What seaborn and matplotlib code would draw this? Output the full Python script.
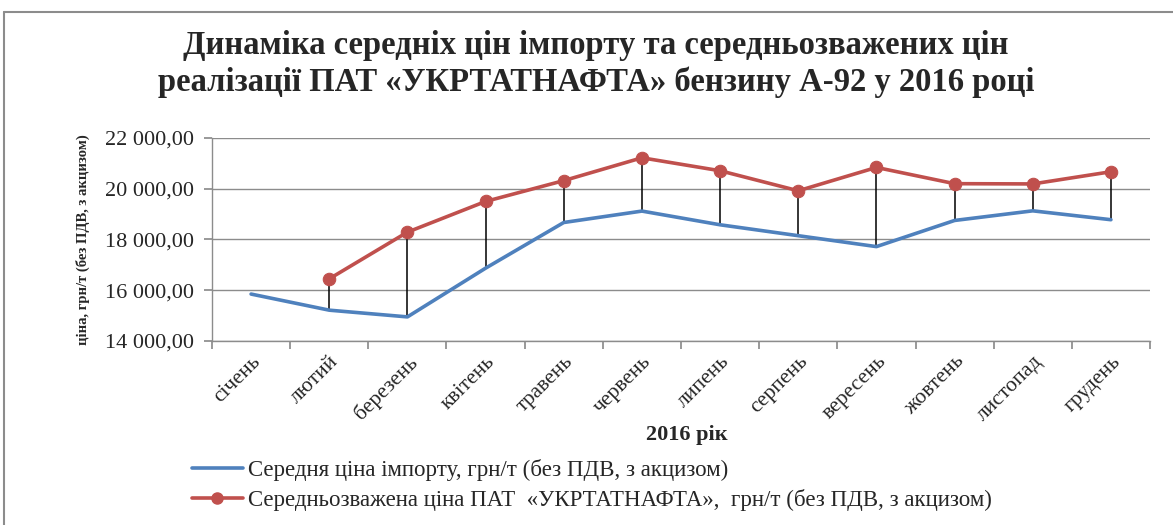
import matplotlib
matplotlib.use("Agg")
import matplotlib.pyplot as plt
import seaborn as sns
import pandas as pd
import numpy as np
from matplotlib.lines import Line2D
from matplotlib.ticker import FixedLocator, FuncFormatter

months = ["січень", "лютий", "березень", "квітень", "травень", "червень",
          "липень", "серпень", "вересень", "жовтень", "листопад", "грудень"]
import_price = [15850, 15215, 14950, 16870, 18670, 19120,
                18580, 18150, 17720, 18750, 19130, 18780]
ukrtat_price = [np.nan, 16450, 18290, 19500, 20320, 21220,
                20710, 19920, 20840, 20200, 20190, 20670]

label_import = "Середня ціна імпорту, грн/т (без ПДВ, з акцизом)"
label_ukrtat = "Середньозважена ціна ПАТ  «УКРТАТНАФТА»,  грн/т (без ПДВ, з акцизом)"
title = ("Динаміка середніх цін імпорту та середньозважених цін\n"
         "реалізації ПАТ «УКРТАТНАФТА» бензину А-92 у 2016 році")

sns.set_theme(style="white")
SERIF = ['Liberation Serif', 'DejaVu Serif']
plt.rcParams['font.family'] = SERIF

W, H = 1173, 525
fig = plt.figure(figsize=(W / 100, H / 100), dpi=100)
ax = fig.add_axes([212 / W, 1 - 341 / H, (1150 - 212) / W, (341 - 138) / H])

pos = np.arange(len(months))
df = pd.DataFrame({"pos": pos, "imp": import_price, "ukr": ukrtat_price})

blue = "#4F81BD"
red = "#C0504D"

# drop lines
for x, lo, hi in zip(pos, import_price, ukrtat_price):
    if not np.isnan(hi):
        ax.vlines(x, lo, hi, color="black", lw=1.1, zorder=2)

sns.lineplot(data=df, x="pos", y="imp", ax=ax, color=blue, lw=2.6,
             label=label_import, zorder=3)
sns.lineplot(data=df, x="pos", y="ukr", ax=ax, color=red, lw=2.6,
             marker="o", markersize=9, markeredgecolor=red,
             label=label_ukrtat, zorder=4)

ax.set_xlim(-0.5, 11.5)
ax.set_ylim(14000, 22000)
ax.yaxis.set_major_locator(FixedLocator([14000, 16000, 18000, 20000, 22000]))
ax.yaxis.set_major_formatter(FuncFormatter(
    lambda v, p: f"{int(v):,}".replace(",", " ") + ",00"))
ax.grid(axis="y", color="#8c8c8c", lw=1.0)
ax.set_axisbelow(True)

ax.set_xticks(np.arange(-0.5, 12, 1.0))
ax.set_xticklabels([])
ax.set_xticks(pos, minor=True)
ax.set_xticklabels(months, minor=True, rotation=45, ha="right", va="top",
                   rotation_mode="anchor", fontsize=15.5, family=SERIF)
ax.tick_params(axis="x", which="minor", length=0, pad=8)
ax.tick_params(axis="x", which="major", length=6, color="#8c8c8c", bottom=True, direction="out")
ax.tick_params(axis="y", length=6, color="#8c8c8c", left=True, direction="out",
               labelsize=16, pad=7)

for s in ["top", "right"]:
    ax.spines[s].set_visible(False)
for s in ["left", "bottom"]:
    ax.spines[s].set_color("#8c8c8c")
    ax.spines[s].set_linewidth(1.0)

ax.set_xlabel("2016 рік", fontsize=16, fontweight="bold", labelpad=2)
ax.set_ylabel("ціна, грн/т (без ПДВ, з акцизом)", fontsize=10.5, fontweight="bold")
ax.yaxis.set_label_coords((90 - 212) / 938, 0.5)
ax.xaxis.set_label_coords((687 - 212) / 938, -0.415)

fig.text(596 / W, 1 - 64 / H, title, ha="center", va="center",
         fontsize=23.5, fontweight="bold", linespacing=1.25)

handles = [Line2D([], [], color=blue, lw=2.6),
           Line2D([], [], color=red, lw=2.6, marker="o", markersize=8)]
ax.get_legend().remove()
fig.legend(handles, [label_import, label_ukrtat], loc="upper left",
           bbox_to_anchor=(183 / W, 1 - 450 / H), frameon=False,
           prop={"family": SERIF, "size": 16.5},
           handlelength=2.2, handletextpad=0.25, labelspacing=0.35,
           borderaxespad=0)

# outer chart frame
fig.add_artist(Line2D([4 / W, 1], [1 - 12 / H, 1 - 12 / H], transform=fig.transFigure,
                      color="#8c8c8c", lw=1.5))
fig.add_artist(Line2D([4 / W, 4 / W], [0, 1 - 12 / H], transform=fig.transFigure,
                      color="#8c8c8c", lw=1.5))

fig.savefig("out.png", dpi=100, facecolor="white")
